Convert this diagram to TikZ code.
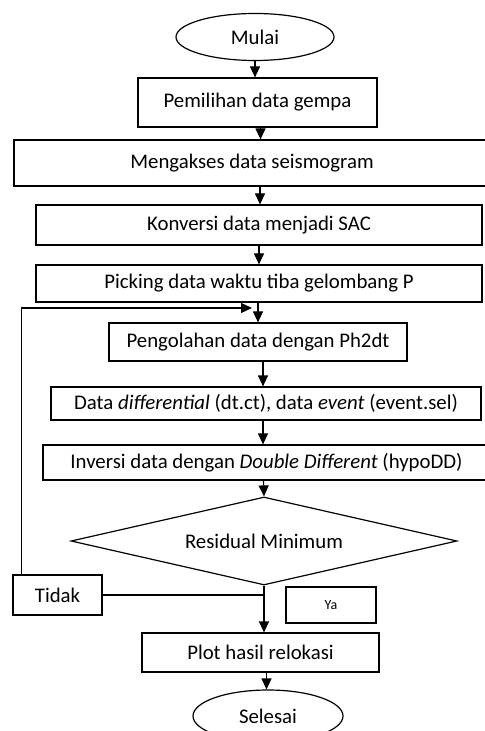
\documentclass[tikz,border=0pt]{standalone}
\usepackage{fontspec}
\setmainfont{Carlito}
\usetikzlibrary{shapes.geometric,arrows.meta}

\begin{document}
\begin{tikzpicture}[x=0.5pt,y=-0.5pt,
    proses/.style={draw,line width=0.6pt,rectangle,inner sep=0pt,font=\fontsize{10.4}{12}\selectfont},
    terminal/.style={draw,line width=0.6pt,ellipse,inner sep=0pt,font=\fontsize{10.4}{12}\selectfont},
    panah/.style={line width=0.6pt,-{Triangle[width=5pt,length=5.5pt]}}]
    \useasboundingbox (0,0) rectangle (484,731);
    % node-node utama
    \node[terminal,minimum width=79pt,minimum height=23.5pt] (mulai) at (255,37) {Mulai};
    \node[proses,minimum width=119.5pt,minimum height=24.5pt] (pilih) at (257.5,102.5) {Pemilihan data gempa};
    \node[proses,minimum width=238pt,minimum height=23pt] (akses) at (252,163) {Mengakses data seismogram};
    \node[proses,minimum width=223pt,minimum height=20pt] (konversi) at (259,225) {Konversi data menjadi SAC};
    \node[proses,minimum width=223pt,minimum height=18.5pt] (picking) at (259,283.5) {Picking data waktu tiba gelombang P};
    \node[proses,minimum width=149pt,minimum height=19pt] (olah) at (258,342) {Pengolahan data dengan Ph2dt};
    \node[proses,minimum width=215pt,minimum height=16.5pt] (dtct) at (266,403.5) {Data \textit{differential} (dt.ct), data \textit{event} (event.sel)};
    \node[proses,minimum width=223.5pt,minimum height=17.5pt] (inversi) at (266.5,462.5) {Inversi data dengan \textit{Double Different} (hypoDD)};
    \node[draw,line width=0.6pt,diamond,aspect=4.4,inner sep=0pt,minimum width=193pt,minimum height=44pt,font=\fontsize{10.4}{12}\selectfont] (residual) at (264,541) {Residual Minimum};
    \node[proses,minimum width=44.5pt,minimum height=20pt] (tidak) at (57.5,595) {Tidak};
    \node[proses,minimum width=45pt,minimum height=18pt,font=\fontsize{7}{8}\selectfont] (ya) at (331,605) {Ya};
    \node[proses,minimum width=118.5pt,minimum height=19.5pt] (plot) at (260.5,652.5) {Plot hasil relokasi};
    \node[terminal,minimum width=75pt,minimum height=26pt] (selesai) at (268,716) {Selesai};
    \coordinate (balik) at (252,308);

    % panah
    \draw[panah] (mulai.south) -- (mulai.south |- pilih.north);
    \draw[panah] ([xshift=1.5pt]pilih.south) -- ([xshift=1.5pt]pilih.south |- akses.north);
    \draw[panah] ([xshift=4pt]akses.south) -- ([xshift=4pt]akses.south |- konversi.north);
    \draw[panah] (konversi.south) -- (konversi.south |- picking.north);
    \draw[panah] ([xshift=-0.5pt]picking.south) -- ([xshift=-0.5pt]picking.south |- olah.north);
    \draw[panah] ([xshift=2.5pt]olah.south) -- ([xshift=2.5pt]olah.south |- dtct.north);
    \draw[panah] ([xshift=-1.5pt]dtct.south) -- ([xshift=-1.5pt]dtct.south |- inversi.north);
    \draw[panah] ([xshift=-1.5pt]inversi.south) -- (residual.north);
    \draw[panah] (residual.south) -- (residual.south |- plot.north);
    \draw[panah] ([xshift=3pt]plot.south) -- ([xshift=3pt]plot.south |- selesai.north);
    \draw[line width=0.6pt] (tidak.east) -- (residual.south |- tidak.east);
    \draw[panah] ([xshift=4.5pt]tidak.north west) |- (balik);
\end{tikzpicture}
\end{document}
